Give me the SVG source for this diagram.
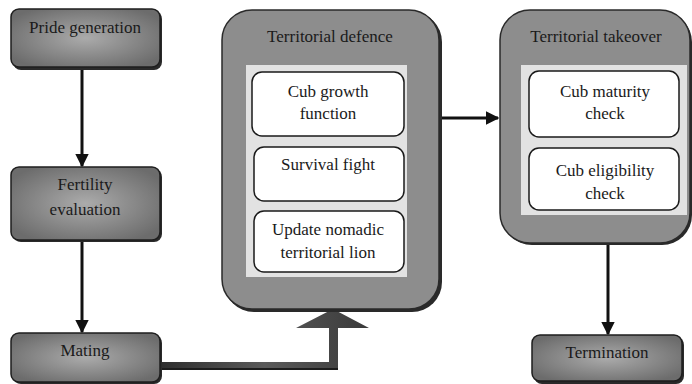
<svg xmlns="http://www.w3.org/2000/svg" width="692" height="384" viewBox="0 0 692 384">
<defs>
<radialGradient id="gbox" cx="50%" cy="50%" r="60%">
<stop offset="0" stop-color="#ababab"/>
<stop offset="1" stop-color="#6c6c6c"/>
</radialGradient>
<linearGradient id="garrow" x1="0" y1="0" x2="1" y2="0">
<stop offset="0" stop-color="#2e2e2e"/>
<stop offset="0.5" stop-color="#5a5a5a"/>
<stop offset="1" stop-color="#3a3a3a"/>
</linearGradient>
<marker id="ah" viewBox="0 0 10 10" refX="9" refY="5" markerWidth="4.5" markerHeight="4.5" orient="auto" markerUnits="strokeWidth">
<path d="M0,0 L10,5 L0,10 z" fill="#111"/>
</marker>
</defs>
<style>
.box{fill:url(#gbox);stroke:#1e1e1e;stroke-width:1.5}
.shadow{fill:#2a2a2a}
.big{fill:#8d8d8d;stroke:#2a2a2a;stroke-width:1.5}
.panel{fill:#e2e2e2}
.inner{fill:#ffffff;stroke:#1a1a1a;stroke-width:1.5}
.t{font-family:"Liberation Serif","Times New Roman",serif;font-size:17px;fill:#1a1a1a;text-anchor:middle}
.c{stroke:#111;stroke-width:3;fill:none}
</style>

<g id="connectors">
<line class="c" x1="82" y1="68" x2="82" y2="166" marker-end="url(#ah)"/>
<line class="c" x1="82" y1="241" x2="82" y2="332" marker-end="url(#ah)"/>
<line class="c" x1="440" y1="118" x2="498" y2="118" marker-end="url(#ah)"/>
<line class="c" x1="608" y1="244" x2="608" y2="334" marker-end="url(#ah)"/>
<path d="M160,362 L329,362 L329,328 L338,328 L338,370 L160,370 z" fill="#1c1c1c"/>
<path d="M160,362 L329,362 L329,328 L296,328 L333,309 L369,328 L338,328 L338,368 L160,368 z" fill="url(#garrow)"/>
</g>

<g id="pride-generation">
<rect class="shadow" x="13" y="11" width="149" height="59" rx="8"/>
<rect class="box" x="11" y="9" width="149" height="58" rx="8"/>
<text class="t" x="85" y="33">Pride generation</text>
</g>

<g id="fertility-evaluation">
<rect class="shadow" x="13" y="169" width="149" height="73" rx="8"/>
<rect class="box" x="11" y="167" width="149" height="73" rx="8"/>
<text class="t" x="85" y="190">Fertility</text>
<text class="t" x="85" y="215">evaluation</text>
</g>

<g id="mating">
<rect class="shadow" x="13" y="335" width="149" height="49" rx="8"/>
<rect class="box" x="11" y="333" width="149" height="49" rx="8"/>
<text class="t" x="85" y="356">Mating</text>
</g>

<g id="territorial-defence">
<rect class="shadow" x="224" y="12" width="218" height="300" rx="30"/>
<rect class="big" x="222" y="10" width="217" height="299" rx="30"/>
<text class="t" x="330" y="42">Territorial defence</text>
<rect class="panel" x="246" y="65" width="161" height="212"/>
<g id="cub-growth-function">
<rect class="inner" x="252" y="72" width="152" height="64" rx="10"/>
<text class="t" x="328" y="97">Cub growth</text>
<text class="t" x="328" y="119">function</text>
</g>
<g id="survival-fight">
<rect class="inner" x="254" y="147" width="150" height="54" rx="10"/>
<text class="t" x="328" y="170">Survival fight</text>
</g>
<g id="update-nomadic-territorial-lion">
<rect class="inner" x="254" y="211" width="150" height="61" rx="10"/>
<text class="t" x="328" y="235">Update nomadic</text>
<text class="t" x="328" y="258">territorial lion</text>
</g>
</g>

<g id="territorial-takeover">
<rect class="shadow" x="502" y="12" width="190" height="233" rx="30"/>
<rect class="big" x="500" y="10" width="190" height="233" rx="30"/>
<text class="t" x="596" y="42">Territorial takeover</text>
<rect class="panel" x="521" y="65" width="166" height="150"/>
<g id="cub-maturity-check">
<rect class="inner" x="529" y="71" width="150" height="66" rx="10"/>
<text class="t" x="605" y="97">Cub maturity</text>
<text class="t" x="605" y="119">check</text>
</g>
<g id="cub-eligibility-check">
<rect class="inner" x="529" y="148" width="150" height="62" rx="10"/>
<text class="t" x="605" y="176">Cub eligibility</text>
<text class="t" x="605" y="199">check</text>
</g>
</g>

<g id="termination">
<rect class="shadow" x="534" y="337" width="150" height="47" rx="8"/>
<rect class="box" x="532" y="335" width="150" height="46" rx="8"/>
<text class="t" x="607" y="358">Termination</text>
</g>
</svg>
